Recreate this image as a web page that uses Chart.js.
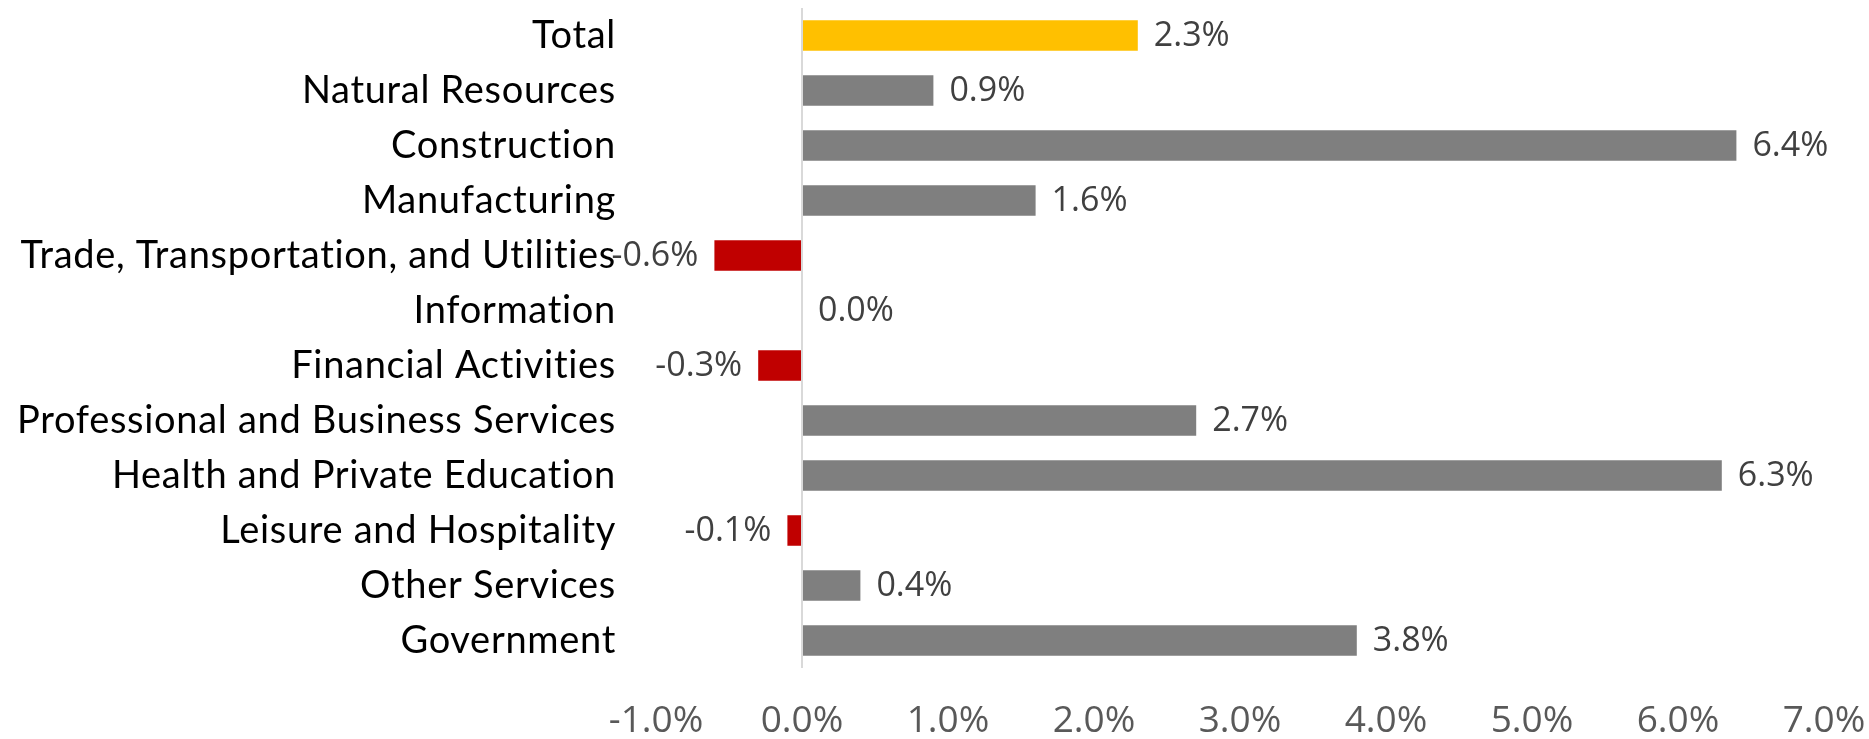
<!DOCTYPE html>
<html>
<head>
<meta charset="utf-8">
<script src="https://cdn.jsdelivr.net/npm/chart.js@4/dist/chart.umd.min.js"></script>
<style>
  html, body { margin: 0; padding: 0; background: #fff; }
  #wrap { width: 1869px; height: 739px; position: relative; }
</style>
</head>
<body>
<div id="wrap"><canvas id="jobs-chart"></canvas></div>
<script>
// categories and year-over-year job growth (%)
var sectors = ["Total", "Natural Resources", "Construction", "Manufacturing",
  "Trade, Transportation, and Utilities", "Information", "Financial Activities",
  "Professional and Business Services", "Health and Private Education",
  "Leisure and Hospitality", "Other Services", "Government"];
var growth = [2.3, 0.9, 6.4, 1.6, -0.6, 0.0, -0.3, 2.7, 6.3, -0.1, 0.4, 3.8];
var axisMin = -1, axisMax = 7, axisStep = 1;

// slight letter spacing on the category names (also stops Lato's "ti" ligature)
var spacing = {
  id: "spacing",
  beforeDraw: function(chart) { chart.ctx.letterSpacing = "0.7px"; },
  beforeDatasetsDraw: function(chart) { chart.ctx.letterSpacing = "0px"; }
};

// value labels next to the bar ends
var barLabels = {
  id: "barLabels",
  afterDatasetsDraw: function(chart) {
    var ctx = chart.ctx;
    var meta = chart.getDatasetMeta(0);
    ctx.save();
    ctx.font = "34px 'Open Sans'";
    ctx.fillStyle = "#404040";
    ctx.textBaseline = "middle";
    meta.data.forEach(function(bar, i) {
      var v = growth[i];
      var txt = v.toFixed(1) + "%";
      if (v < 0) {
        ctx.textAlign = "right";
        ctx.fillText(txt, bar.x - 16, bar.y + 1);
      } else {
        ctx.textAlign = "left";
        ctx.fillText(txt, bar.x + 16, bar.y + 1);
      }
    });
    ctx.restore();
  }
};

new Chart(document.getElementById("jobs-chart"), {
  type: "bar",
  data: {
    labels: sectors,
    datasets: [{
      data: growth,
      backgroundColor: function(c) {
        if (c.dataIndex === 0) return "#FFC000";
        return growth[c.dataIndex] < 0 ? "#C00000" : "#7F7F7F";
      },
      barPercentage: 0.555,
      categoryPercentage: 1.0
    }]
  },
  options: {
    indexAxis: "y",
    responsive: true,
    maintainAspectRatio: false,
    animation: false,
    layout: { padding: { top: 8, right: 45, left: 0, bottom: 0 } },
    plugins: { legend: { display: false }, tooltip: { enabled: false } },
    scales: {
      x: {
        min: axisMin,
        max: axisMax,
        ticks: {
          stepSize: axisStep,
          padding: 31,
          z: 1,
          color: "#595959",
          font: { family: "'Open Sans'", size: 37 },
          callback: function(v) { return Number(v).toFixed(1) + "%"; }
        },
        grid: {
          drawTicks: false,
          lineWidth: 2,
          color: function(c) { return c.tick && c.tick.value === 0 ? "#D9D9D9" : "rgba(0,0,0,0)"; }
        },
        border: { display: false },
        afterFit: function(scale) {
          scale.height = 71;
          scale.paddingLeft = 0;
          scale.paddingRight = 0;
        }
      },
      y: {
        ticks: {
          padding: 40,
          color: "#000000",
          font: { family: "Lato", size: 38 }
        },
        grid: { display: false, drawTicks: false },
        border: { display: false },
        afterFit: function(scale) {
          scale.width = 656;
          scale.paddingTop = 0;
          scale.paddingBottom = 0;
        }
      }
    }
  },
  plugins: [spacing, barLabels]
});
</script>
</body>
</html>
